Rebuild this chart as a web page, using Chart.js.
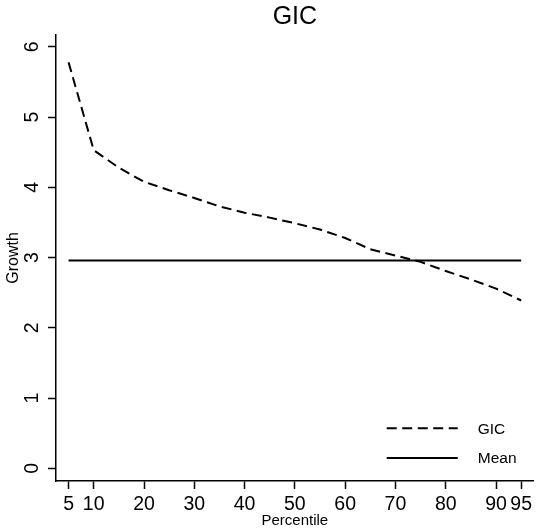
<!DOCTYPE html>
<html>
<head>
<meta charset="utf-8">
<script src="https://cdn.jsdelivr.net/npm/chart.js@4.4.0/dist/chart.umd.min.js"></script>
<style>
  html, body { margin: 0; padding: 0; background: #fff; }
  canvas { display: block; }
</style>
</head>
<body>
<canvas id="gicChart" width="536" height="530"></canvas>
<script>
const percentiles = [5, 10, 15, 20, 25, 30, 35, 40, 45, 50, 55, 60, 65, 70, 75, 80, 85, 90, 95];
const gicValues = [5.78, 4.53, 4.28, 4.08, 3.96, 3.85, 3.73, 3.64, 3.57, 3.49, 3.40, 3.28, 3.12, 3.03, 2.94, 2.81, 2.69, 2.56, 2.39];
const meanPercentiles = [5, 95];
const meanValue = 2.96;
const xTicks = [5, 10, 20, 30, 40, 50, 60, 70, 80, 90, 95];
const yTicks = [0, 1, 2, 3, 4, 5, 6];

const FONT = "'Liberation Sans', Arial, sans-serif";
const DASH = [10, 5.5];

document.addEventListener('DOMContentLoaded', () => {
    const canvas = document.getElementById('gicChart');
    const ctx = canvas.getContext('2d');

    // title, rotated y tick labels and legend drawn by hand (Stata look)
    const stataExtras = {
        id: 'stataExtras',
        afterDraw(chart) {
            const c = chart.ctx;
            const area = chart.chartArea;
            const yScale = chart.scales.y;
            c.save();
            c.fillStyle = '#000';

            c.font = `25px ${FONT}`;
            c.textAlign = 'center';
            c.textBaseline = 'middle';
            c.fillText('GIC', (area.left + area.right) / 2, 17);

            c.font = `19.5px ${FONT}`;
            yTicks.forEach(v => {
                c.save();
                c.translate(33, yScale.getPixelForValue(v));
                c.rotate(-Math.PI / 2);
                c.fillText(String(v), 0, 0);
                c.restore();
            });

            const items = [
                { label: 'GIC', dash: DASH, dy: 52.7 },
                { label: 'Mean', dash: [], dy: 23 }
            ];
            c.font = `15.5px ${FONT}`;
            c.textAlign = 'left';
            items.forEach(it => {
                const y = area.bottom - it.dy;
                c.beginPath();
                c.setLineDash(it.dash);
                c.lineWidth = 2;
                c.strokeStyle = '#000';
                c.moveTo(area.right - 147, y);
                c.lineTo(area.right - 76, y);
                c.stroke();
                c.setLineDash([]);
                c.fillText(it.label, area.right - 56, y + 1);
            });
            c.restore();
        }
    };

    new Chart(ctx, {
        type: 'line',
        data: {
            datasets: [
                {
                    label: 'GIC',
                    data: percentiles.map((p, i) => ({ x: p, y: gicValues[i] })),
                    borderColor: '#000',
                    borderWidth: 2,
                    borderDash: DASH,
                    pointRadius: 0,
                    tension: 0,
                    fill: false
                },
                {
                    label: 'Mean',
                    data: meanPercentiles.map(p => ({ x: p, y: meanValue })),
                    borderColor: '#000',
                    borderWidth: 2,
                    pointRadius: 0,
                    tension: 0,
                    fill: false
                }
            ]
        },
        options: {
            responsive: false,
            animation: false,
            layout: { padding: { top: 35, left: 0, right: 0, bottom: 0 } },
            plugins: {
                legend: { display: false },
                title: { display: false },
                tooltip: { enabled: false }
            },
            scales: {
                x: {
                    type: 'linear',
                    min: 2.5,
                    max: 97.5,
                    afterBuildTicks: (scale) => { scale.ticks = xTicks.map(v => ({ value: v })); },
                    afterFit: (scale) => { scale.height = 49; },
                    grid: { drawOnChartArea: false, drawTicks: true, tickLength: 8, tickWidth: 1.5, tickColor: '#000' },
                    border: { display: true, color: '#000', width: 1.5 },
                    ticks: {
                        color: '#000',
                        padding: 4,
                        maxRotation: 0,
                        autoSkip: false,
                        font: { family: FONT, size: 19.5 }
                    },
                    title: {
                        display: true,
                        text: 'Percentile',
                        color: '#000',
                        padding: { top: 0, bottom: 0 },
                        font: { family: FONT, size: 15 }
                    }
                },
                y: {
                    min: -0.18,
                    max: 6.17,
                    afterBuildTicks: (scale) => { scale.ticks = yTicks.map(v => ({ value: v })); },
                    afterFit: (scale) => { scale.width = 56; },
                    grid: { drawOnChartArea: false, drawTicks: true, tickLength: 8, tickWidth: 1.5, tickColor: '#000' },
                    border: { display: true, color: '#000', width: 1.5 },
                    ticks: {
                        color: 'rgba(0,0,0,0)',
                        font: { family: FONT, size: 18 }
                    },
                    title: {
                        display: true,
                        text: 'Growth',
                        color: '#000',
                        padding: { top: 4, bottom: 0 },
                        font: { family: FONT, size: 16 }
                    }
                }
            }
        },
        plugins: [stataExtras]
    });
});
</script>
</body>
</html>
